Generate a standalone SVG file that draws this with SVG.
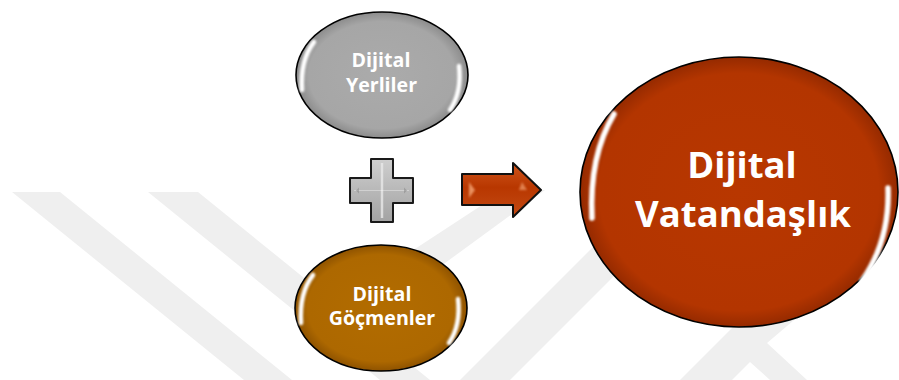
<svg xmlns="http://www.w3.org/2000/svg" width="899" height="380" viewBox="0 0 899 380">
  <defs>
    <radialGradient id="gGray" cx="50%" cy="50%" r="50%">
      <stop offset="0" stop-color="#ababab"/>
      <stop offset="0.85" stop-color="#a6a6a6"/>
      <stop offset="1" stop-color="#8c8c8c"/>
    </radialGradient>
    <radialGradient id="gGold" cx="50%" cy="50%" r="50%">
      <stop offset="0" stop-color="#b26c00"/>
      <stop offset="0.85" stop-color="#ad6800"/>
      <stop offset="1" stop-color="#8f5300"/>
    </radialGradient>
    <radialGradient id="gRed" cx="50%" cy="50%" r="50%">
      <stop offset="0" stop-color="#b83700"/>
      <stop offset="0.88" stop-color="#b33500"/>
      <stop offset="1" stop-color="#952a00"/>
    </radialGradient>
    <linearGradient id="gPlus" x1="0" y1="0" x2="0" y2="1">
      <stop offset="0" stop-color="#cfcfcf"/>
      <stop offset="0.5" stop-color="#b8b8b8"/>
      <stop offset="1" stop-color="#a3a3a3"/>
    </linearGradient>
    <linearGradient id="gArrow" x1="0" y1="0" x2="0" y2="1">
      <stop offset="0" stop-color="#d0551c"/>
      <stop offset="0.45" stop-color="#b83700"/>
      <stop offset="1" stop-color="#c44a14"/>
    </linearGradient>
    <filter id="blur" x="-50%" y="-50%" width="200%" height="200%">
      <feGaussianBlur stdDeviation="1.3"/>
    </filter>
    <style>
      .wm { fill: #efefef; }
      .ell { stroke: #000; stroke-width: 1.6; }
      .hl { fill: none; stroke: #ffffff; stroke-linecap: round; filter: url(#blur); }
      .lbl { font-family: "Open Sans", "Liberation Sans", sans-serif; font-weight: bold; fill: #ffffff; text-anchor: middle; }
      .s { font-size: 19.6px; }
      .b { font-size: 36.5px; }
    </style>
  </defs>

  <g id="watermark">
    <polygon class="wm" points="12,192 60,192 292,380 244,380"/>
    <polygon class="wm" points="148,192 198,192 430,380 380,380"/>
    <polygon class="wm" points="395,262 505,190 545,190 430,274"/>
    <polygon class="wm" points="460,380 510,380 680,210 630,210"/>
    <polygon class="wm" points="680,380 745,315 800,315 767,343 807,380 770,380 750,362 732,380"/>
  </g>

  <g id="node-yerliler">
    <ellipse class="ell" cx="382" cy="75" rx="86" ry="63" fill="url(#gGray)"/>
    <path class="hl" d="M314,42 Q300,60 302,90" stroke-width="4.5"/>
    <path class="hl" d="M450,110 Q462,92 459,66" stroke-width="4.5"/>
    <text class="lbl s" x="381" y="67">Dijital</text>
    <text class="lbl s" x="381.5" y="92">Yerliler</text>
  </g>

  <g id="node-gocmenler">
    <ellipse class="ell" cx="381" cy="308" rx="86" ry="63" fill="url(#gGold)"/>
    <path class="hl" d="M313,275 Q299,293 301,323" stroke-width="4.5"/>
    <path class="hl" d="M449,343 Q461,325 458,299" stroke-width="4.5"/>
    <text class="lbl s" x="382" y="300.5">Dijital</text>
    <text class="lbl s" x="382" y="325">Göçmenler</text>
  </g>

  <g id="node-plus">
    <path d="M371,159 H393 V178 H413 V203 H393 V222 H371 V203 H350 V178 H371 Z" fill="url(#gPlus)" stroke="#1a1a1a" stroke-width="2" stroke-linejoin="round"/>
    <path d="M382,163 V218" stroke="#e8e8e8" stroke-width="2.5" opacity="0.8" fill="none"/>
    <path d="M354,190.5 H409" stroke="#ffffff" stroke-width="1.2" opacity="0.35" fill="none"/>
    <path d="M356,190.5 l3,-3 v6 z" fill="#8c8c8c" opacity="0.6"/>
    <path d="M407,190.5 l-3,-3 v6 z" fill="#8c8c8c" opacity="0.6"/>
  </g>

  <g id="connectors">
    <path d="M462,174 H513 V163 L541,190 L513,217 V205 H462 Z" fill="url(#gArrow)" stroke="#111" stroke-width="2" stroke-linejoin="round"/>
    <path d="M469,182 l6,8 l-6,8 z" fill="#f2a070" opacity="0.85" filter="url(#blur)"/>
    <path d="M522,182 l5,8 l-8,0 z" fill="#f2a070" opacity="0.7" filter="url(#blur)"/>
  </g>

  <g id="node-vatandaslik">
    <ellipse class="ell" cx="739" cy="192" rx="159" ry="135" fill="url(#gRed)"/>
    <path class="hl" d="M614,114 Q589,156 592,218" stroke-width="5.5"/>
    <path class="hl" d="M862,281 Q890,240 888,188" stroke-width="5.5"/>
    <text class="lbl b" x="742" y="178">Dijital</text>
    <text class="lbl b" x="743" y="227">Vatandaşlık</text>
  </g>
</svg>
